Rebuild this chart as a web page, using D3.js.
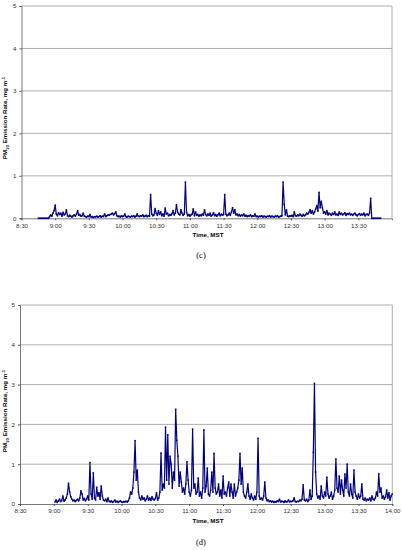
<!DOCTYPE html>
<html>
<head>
<meta charset="utf-8">
<script src="https://cdn.jsdelivr.net/npm/d3@7"></script>
<style>
  body { margin: 0; background: #fff; }
  svg { display: block; }
</style>
</head>
<body>
<div id="chart"></div>
<script>
// tick labels shared by both panels (x axis is clock time, MST)
const timeTicks = ["8:30","9:00","9:30","10:00","10:30","11:00","11:30","12:00","12:30","13:00","13:30","14:00"];
const rateTicks = [0, 1, 2, 3, 4, 5];

// panel (c): one reading per minute, starting 8:45
const startC = "8:45";
const valuesC = [
  0,0,0,0,0,0,0,0,0,0,
  0.04,0.08,0.05,0.12,0.18,0.31,0.1,0.06,0.13,0.09,
  0.12,0.05,0.14,0.08,0.1,0.2,0.06,0.04,0.07,0.05,
  0.03,0.06,0.08,0.05,0.1,0.18,0.07,0.09,0.05,0.06,
  0.12,0.05,0.04,0.03,0.05,0.04,0.09,0.03,0.04,0.02,
  0.04,0.03,0.05,0.03,0.04,0.06,0.03,0.05,0.04,0.1,
  0.04,0.06,0.08,0.07,0.09,0.1,0.12,0.08,0.11,0.15,
  0.06,0.04,0.05,0.03,0.06,0.04,0.05,0.1,0.04,0.03,
  0.05,0.04,0.03,0.05,0.04,0.06,0.03,0.05,0.1,0.05,
  0.04,0.06,0.05,0.08,0.04,0.05,0.07,0.04,0.06,0.05,
  0.56,0.1,0.06,0.08,0.23,0.12,0.07,0.18,0.09,0.15,
  0.06,0.1,0.05,0.24,0.1,0.12,0.06,0.09,0.07,0.11,
  0.18,0.08,0.12,0.32,0.15,0.1,0.08,0.2,0.12,0.07,
  0.1,0.85,0.14,0.06,0.09,0.05,0.08,0.1,0.22,0.06,
  0.15,0.07,0.09,0.05,0.08,0.06,0.1,0.07,0.2,0.09,
  0.06,0.1,0.07,0.12,0.05,0.08,0.13,0.06,0.09,0.05,
  0.08,0.12,0.06,0.1,0.07,0.09,0.56,0.1,0.06,0.08,
  0.12,0.07,0.15,0.25,0.12,0.2,0.08,0.1,0.06,0.09,
  0.05,0.08,0.06,0.1,0.05,0.07,0.04,0.06,0.05,0.08,
  0.04,0.06,0.05,0.1,0.04,0.05,0.03,0.05,0.04,0.06,
  0.03,0.05,0.04,0.03,0.05,0.04,0.06,0.03,0.05,0.04,
  0.03,0.05,0.04,0.06,0.03,0.04,0.05,0.06,0.85,0.33,
  0.08,0.2,0.05,0.04,0.06,0.05,0.07,0.04,0.15,0.06,
  0.05,0.08,0.06,0.1,0.07,0.05,0.09,0.06,0.08,0.12,
  0.1,0.14,0.2,0.12,0.18,0.1,0.15,0.22,0.3,0.17,
  0.61,0.25,0.4,0.25,0.12,0.15,0.1,0.18,0.08,0.12,
  0.1,0.07,0.12,0.09,0.15,0.08,0.1,0.07,0.15,0.09,
  0.12,0.08,0.1,0.13,0.07,0.11,0.09,0.12,0.08,0.1,
  0.07,0.1,0.12,0.08,0.06,0.09,0.11,0.07,0.1,0.08,
  0.12,0.06,0.09,0.1,0.07,0.12,0.47,0,0,0,
  0,0,0,0,0,0
];

// panel (d): one reading per minute, starting 9:01
const startD = "9:01";
const valuesD = [
  0.05,0.1,0.04,0.08,0.12,0.06,0.09,0.2,0.07,0.1,
  0.15,0.25,0.52,0.3,0.18,0.12,0.08,0.1,0.06,0.09,
  0.12,0.08,0.15,0.33,0.25,0.1,0.14,0.08,0.12,0.2,
  0.1,1.04,0.25,0.12,0.78,0.15,0.1,0.42,0.2,0.28,
  0.12,0.45,0.2,0.1,0.08,0.12,0.06,0.15,0.07,0.05,
  0.08,0.04,0.06,0.1,0.05,0.07,0.04,0.06,0.08,0.05,
  0.04,0.06,0.05,0.07,0.05,0.08,0.15,0.3,0.25,0.4,
  0.8,1.59,0.6,0.85,0.3,0.15,0.1,0.2,0.12,0.15,
  0.08,0.12,0.2,0.1,0.15,0.09,0.18,0.12,0.1,0.14,
  0.28,0.1,0.15,0.3,1.28,0.35,0.5,0.4,1.93,0.6,
  1.74,0.5,1.2,1.0,0.4,0.8,0.6,2.38,1.6,1.2,
  0.45,0.8,0.55,0.3,0.4,0.25,0.5,1.06,0.6,0.3,
  0.2,0.35,1.88,0.4,0.5,0.25,0.3,0.65,0.2,0.3,
  0.15,0.4,1.86,0.3,0.45,0.9,0.25,0.2,0.35,0.8,
  0.3,1.27,0.4,0.25,0.3,0.5,0.2,0.35,0.15,0.7,
  0.25,0.3,0.2,0.4,0.55,0.2,0.5,0.3,0.15,0.5,
  0.2,0.3,0.4,0.6,1.27,0.5,0.9,0.3,0.2,0.15,
  0.3,0.5,0.2,0.12,0.25,0.15,0.1,0.2,0.12,0.3,
  1.65,0.2,0.12,0.15,0.1,0.2,0.55,0.15,0.08,0.1,
  0.06,0.08,0.05,0.07,0.04,0.06,0.05,0.08,0.06,0.12,
  0.05,0.07,0.06,0.04,0.08,0.05,0.06,0.1,0.05,0.07,
  0.06,0.08,0.15,0.06,0.05,0.07,0.06,0.1,0.08,0.12,
  0.48,0.1,0.08,0.12,0.06,0.1,0.35,0.12,0.2,1.3,
  3.03,0.8,0.25,0.15,0.2,0.12,0.45,0.2,0.15,0.3,
  0.2,0.67,0.25,0.15,0.2,0.3,0.12,0.2,0.35,1.13,
  0.4,0.3,0.7,0.25,0.6,0.35,0.2,0.75,0.4,1.0,
  0.3,0.2,0.5,0.25,0.15,0.85,0.3,0.2,0.12,0.25,
  0.15,0.2,0.5,0.12,0.1,0.15,0.08,0.12,0.1,0.15,
  0.08,0.2,0.12,0.1,0.15,0.3,0.2,0.76,0.3,0.4,
  0.15,0.2,0.12,0.18,0.35,0.15,0.28,0.1,0.2,0.25
];

const W = 403, H = 550;
const navy = "#000080";

// "9:30" -> minutes since midnight
function toMin(s) {
  const p = s.split(":");
  return +p[0] * 60 + +p[1];
}

const svg = d3.select("#chart").append("svg")
  .attr("width", W)
  .attr("height", H)
  .attr("viewBox", `0 0 ${W} ${H}`);

function drawPanel(cfg) {
  const start = toMin(cfg.start);
  const data = cfg.values.map((v, i) => ({ t: start + i, v: v }));

  const x = d3.scaleLinear()
    .domain([toMin("8:30"), toMin("14:00")])
    .range([cfg.left, cfg.right]);
  const y = d3.scaleLinear()
    .domain([0, 5])
    .range([cfg.bottom, cfg.top]);

  const g = svg.append("g");

  // horizontal gridlines
  g.append("g")
    .selectAll("line")
    .data(rateTicks.slice(1))
    .join("line")
    .attr("x1", cfg.left).attr("x2", cfg.right)
    .attr("y1", d => y(d)).attr("y2", d => y(d))
    .attr("stroke", "#9a9a9a")
    .attr("stroke-width", 0.8);

  // right border of plot area
  g.append("line")
    .attr("x1", cfg.right).attr("x2", cfg.right)
    .attr("y1", cfg.top).attr("y2", cfg.bottom)
    .attr("stroke", "#9a9a9a")
    .attr("stroke-width", 0.8);

  // y axis
  const yAxis = g.append("g")
    .attr("transform", `translate(${cfg.left},0)`)
    .call(d3.axisLeft(y).tickValues(rateTicks).tickSize(2).tickPadding(3).tickFormat(d3.format("d")));
  yAxis.select(".domain").attr("stroke", "#555").attr("stroke-width", 0.8);
  yAxis.selectAll(".tick line").attr("stroke", "#555");
  yAxis.selectAll("text")
    .attr("font-family", "Liberation Sans, Arial, sans-serif")
    .attr("font-size", 6.2)
    .attr("fill", "#333");

  // x axis
  const ticks = cfg.ticks.map(toMin);
  const xAxis = g.append("g")
    .attr("transform", `translate(0,${cfg.bottom})`)
    .call(d3.axisBottom(x).tickValues(ticks).tickSize(2).tickPadding(3)
      .tickFormat((d, i) => cfg.ticks[i]));
  xAxis.select(".domain").attr("stroke", "#555").attr("stroke-width", 0.8);
  xAxis.selectAll(".tick line").attr("stroke", "#555");
  xAxis.selectAll("text")
    .attr("font-family", "Liberation Sans, Arial, sans-serif")
    .attr("font-size", 6.2)
    .attr("fill", "#333");

  // series
  const line = d3.line()
    .x(d => x(d.t))
    .y(d => y(d.v));

  g.append("path")
    .datum(data)
    .attr("fill", "none")
    .attr("stroke", navy)
    .attr("stroke-width", 1.2)
    .attr("stroke-linejoin", "round")
    .attr("d", line);

  g.append("g")
    .selectAll("rect")
    .data(data)
    .join("rect")
    .attr("x", d => x(d.t) - 0.8)
    .attr("y", d => y(d.v) - 0.8)
    .attr("width", 1.6)
    .attr("height", 1.6)
    .attr("fill", navy)
    .attr("opacity", 0.85);

  // axis titles
  g.append("text")
    .attr("x", cfg.titleX)
    .attr("y", cfg.bottom + 19)
    .attr("text-anchor", "middle")
    .attr("font-family", "Liberation Sans, Arial, sans-serif")
    .attr("font-weight", "bold")
    .attr("font-size", 6.2)
    .text("Time, MST");

  const yt = g.append("text")
    .attr("transform", `translate(7,${cfg.yTitleY}) rotate(-90)`)
    .attr("text-anchor", "middle")
    .attr("font-family", "Liberation Sans, Arial, sans-serif")
    .attr("font-weight", "bold")
    .attr("font-size", 6.2);
  yt.append("tspan").text("PM");
  yt.append("tspan").attr("font-size", 4.4).attr("dy", 1.5).text("10");
  yt.append("tspan").attr("dy", -1.5).text(" Emission Rate, mg m");
  yt.append("tspan").attr("font-size", 4.4).attr("dy", -2.2).text("-1");

  // panel caption
  g.append("text")
    .attr("x", 201)
    .attr("y", cfg.captionY)
    .attr("text-anchor", "middle")
    .attr("font-family", "Liberation Serif, Times New Roman, serif")
    .attr("font-size", 8.5)
    .text(cfg.caption);
}

drawPanel({
  values: valuesC, start: startC, ticks: timeTicks.slice(0, -1),
  left: 21.5, right: 392, top: 6, bottom: 218.3,
  titleX: 208, yTitleY: 118, captionY: 258, caption: "(c)"
});

drawPanel({
  values: valuesD, start: startD, ticks: timeTicks,
  left: 20, right: 392.3, top: 305, bottom: 504,
  titleX: 208, yTitleY: 411, captionY: 545, caption: "(d)"
});
</script>
</body>
</html>
